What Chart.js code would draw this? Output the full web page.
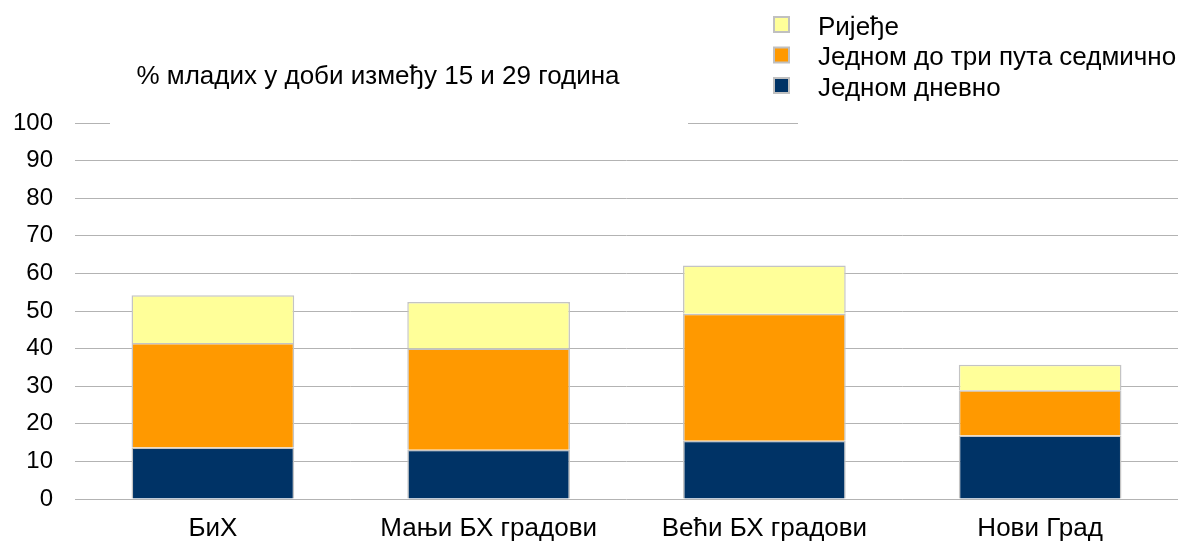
<!DOCTYPE html>
<html>
<head>
<meta charset="utf-8">
<script src="https://cdn.jsdelivr.net/npm/chart.js@4/dist/chart.umd.min.js"></script>
<style>
  html, body { margin: 0; padding: 0; background: #fff; }
  #wrap { width: 1188px; height: 544px; }
</style>
</head>
<body>
<div id="wrap"><canvas id="chart"></canvas></div>
<script>
// categories and series
var categories = ["БиХ", "Мањи БХ градови", "Већи БХ градови", "Нови Град"];
var dnevno = [13.7, 13.1, 15.5, 16.9];
var sedmicno = [27.8, 26.9, 33.8, 12.0];
var rjedje = [12.7, 12.4, 12.8, 6.8];
var yTicks = [0, 10, 20, 30, 40, 50, 60, 70, 80, 90, 100];
var titleText = "% младих у доби између 15 и 29 година";

Chart.defaults.font.family = "'Liberation Sans', Arial, sans-serif";
Chart.defaults.color = "#000";

// title box + legend drawn on top of the plot, like the original
var overlay = {
  id: 'overlay',
  afterDraw: function(chart) {
    var ctx = chart.ctx;
    ctx.save();
    ctx.fillStyle = '#fff';
    ctx.fillRect(110, 58, 578, 70);
    ctx.fillRect(798, 0, 390, 128);

    ctx.fillStyle = '#000';
    ctx.font = "26px 'Liberation Sans', Arial, sans-serif";
    ctx.textAlign = 'center';
    ctx.textBaseline = 'middle';
    ctx.fillText(titleText, 378, 77);

    // legend, top dataset first
    var ds = chart.data.datasets.slice().reverse();
    ctx.textAlign = 'left';
    ds.forEach(function(d, i) {
      var cy = 24.5 + i * 30.5;
      ctx.fillStyle = d.backgroundColor;
      ctx.fillRect(774, cy - 7.5, 15, 15);
      ctx.strokeStyle = '#c0c0c0';
      ctx.lineWidth = 2;
      ctx.strokeRect(774, cy - 7.5, 15, 15);
      ctx.fillStyle = '#000';
      ctx.fillText(d.label, 818, cy + 3);
    });
    ctx.restore();
  }
};

new Chart(document.getElementById('chart'), {
  type: 'bar',
  data: {
    labels: categories,
    datasets: [
      { label: "Једном дневно", data: dnevno, backgroundColor: '#003366' },
      { label: "Једном до три пута седмично", data: sedmicno, backgroundColor: '#ff9900' },
      { label: "Ријеђе", data: rjedje, backgroundColor: '#ffff99' }
    ]
  },
  options: {
    responsive: true,
    maintainAspectRatio: false,
    animation: false,
    layout: { padding: { top: 123, right: 10, left: 0, bottom: 0 } },
    datasets: {
      bar: {
        barPercentage: 0.59,
        categoryPercentage: 1,
        borderColor: '#c4c4c4',
        borderWidth: 1.5
      }
    },
    plugins: {
      legend: { display: false },
      tooltip: { enabled: false }
    },
    scales: {
      x: {
        stacked: true,
        grid: { display: false },
        border: { display: false },
        ticks: { font: { size: 26 }, padding: 6, maxRotation: 0, autoSkip: false },
        afterFit: function(s) { s.height = 45; }
      },
      y: {
        stacked: true,
        min: 0,
        max: 100,
        afterBuildTicks: function(s) { s.ticks = yTicks.map(function(v) { return { value: v }; }); },
        grid: { color: '#b3b3b3', lineWidth: 1, drawTicks: false },
        border: { display: false },
        ticks: { font: { size: 24 }, padding: 22 },
        afterFit: function(s) { s.width = 75; }
      }
    }
  },
  plugins: [overlay]
});
</script>
</body>
</html>
